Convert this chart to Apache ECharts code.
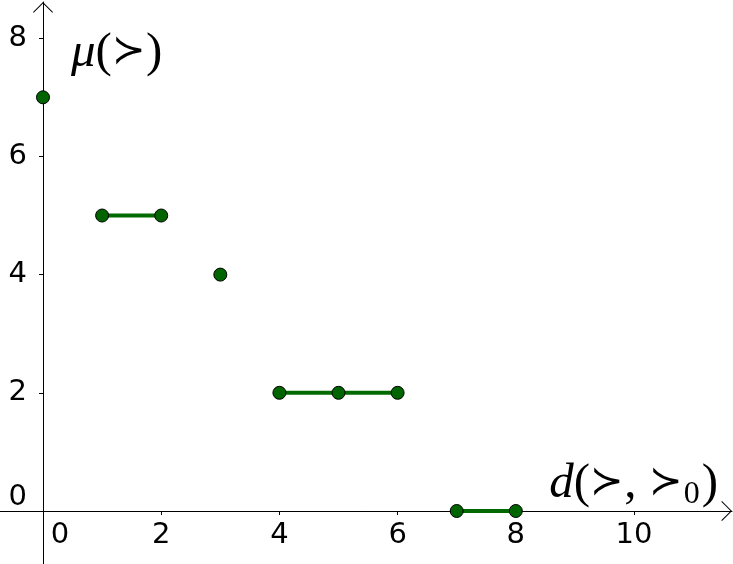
<!DOCTYPE html>
<html>
<head>
<meta charset="utf-8">
<script src="https://cdn.jsdelivr.net/npm/echarts@6/dist/echarts.min.js"></script>
<style>
html,body{margin:0;padding:0;background:#fff;}
#chart{width:733px;height:564px;}
</style>
</head>
<body>
<div id="chart"></div>
<script>
// Data
const pointsX = [0, 1, 2, 3, 4, 5, 6, 7, 8];
const pointsY = [7, 5, 5, 4, 2, 2, 2, 0, 0];
const segment1 = [[1, 5], [2, 5]];
const segment2 = [[4, 2], [6, 2]];
const segment3 = [[7, 0], [8, 0]];
const xTickLabels = [0, 2, 4, 6, 8, 10];
const yTickLabels = [0, 2, 4, 6, 8];
const xTicks = [2, 4, 6, 8, 10];
const yTicks = [2, 4, 6, 8];
const xRange = [-0.7276, 11.658];
const yRange = [-0.8968, 8.613];

const W = 733, H = 564;
const grid = { left: 0, right: 1, top: 2, bottom: 0 };
const gridW = W - grid.left - grid.right;
const gridH = H - grid.top - grid.bottom;
// place each axis line where the other axis is zero
const yAxisOffset = -((0 - xRange[0]) / (xRange[1] - xRange[0])) * gridW;
const xAxisOffset = -((0 - yRange[0]) / (yRange[1] - yRange[0])) * gridH;

const chart = echarts.init(document.getElementById('chart'));
const arrowPath = 'path://M0 10L10 0L20 10L19.3 10.7L10 1.4L0.7 10.7Z';
const green = '#006400';
const lineGreen = '#006a00';
const segStyle = { color: lineGreen, width: 4 };
const serifIt = { fontFamily: 'Liberation Serif', fontStyle: 'italic', fontSize: 49, color: '#000', lineHeight: 54 };
const serifRm = { fontFamily: 'Liberation Serif', fontSize: 49, color: '#000', lineHeight: 54 };
const symStyle = { fontFamily: 'DejaVu Sans', fontWeight: 200, fontSize: 40, color: '#000', lineHeight: 54 };

const option = {
  animation: false,
  backgroundColor: '#ffffff',
  grid: { left: grid.left, right: grid.right, top: grid.top, bottom: grid.bottom, containLabel: false, outerBoundsMode: 'none' },
  xAxis: {
    type: 'value',
    min: xRange[0],
    max: xRange[1],
    position: 'bottom',
    offset: xAxisOffset,
    splitLine: { show: false },
    axisLine: {
      onZero: false,
      lineStyle: { color: '#000', width: 1 },
      symbol: ['none', arrowPath],
      symbolSize: [20, 10.7],
      symbolOffset: [0, -5.35]
    },
    axisTick: { show: true, customValues: xTicks, length: 4, lineStyle: { color: '#000' } },
    axisLabel: {
      customValues: xTickLabels,
      color: '#000',
      fontFamily: 'DejaVu Sans',
      fontSize: 29,
      margin: 10,
      hideOverlap: false,
      formatter: function (v) { return v === 0 ? '{z|0}' : String(v); },
      rich: { z: { fontFamily: 'DejaVu Sans', fontSize: 29, color: '#000', padding: [0, 0, 0, 34] } }
    },
    name: '{it|d}{rm|(}{sym|≻}{rm|, }{sym|≻}{sub|0}{rm|)}',
    nameLocation: 'end',
    nameGap: -14,
    nameMoveOverlap: false,
    nameTextStyle: {
      align: 'right',
      verticalAlign: 'bottom',
      rich: {
        it: serifIt,
        rm: serifRm,
        sym: symStyle,
        sub: { fontFamily: 'Liberation Serif', fontSize: 32, color: '#000', lineHeight: 30, verticalAlign: 'bottom', padding: [0, 2, 0, 1] }
      }
    }
  },
  yAxis: {
    type: 'value',
    min: yRange[0],
    max: yRange[1],
    position: 'left',
    offset: yAxisOffset,
    splitLine: { show: false },
    axisLine: {
      onZero: false,
      lineStyle: { color: '#000', width: 1 },
      symbol: ['none', arrowPath],
      symbolSize: [20, 10.7],
      symbolOffset: [0, -5.35]
    },
    axisTick: { show: true, customValues: yTicks, length: 4, lineStyle: { color: '#000' } },
    axisLabel: {
      customValues: yTickLabels,
      color: '#000',
      fontFamily: 'DejaVu Sans',
      fontSize: 29,
      margin: 16,
      hideOverlap: false,
      formatter: function (v) { return v === 0 ? '{z|0}' : String(v); },
      rich: { z: { fontFamily: 'DejaVu Sans', fontSize: 29, color: '#000', padding: [0, 0, 28, 0] } }
    },
    name: '{it|μ}{rm|(}{sym|≻}{rm|)}',
    nameLocation: 'end',
    nameGap: -24,
    nameMoveOverlap: false,
    nameTextStyle: {
      align: 'left',
      verticalAlign: 'top',
      padding: [0, 0, 0, 28],
      rich: { it: serifIt, rm: serifRm, sym: symStyle }
    }
  },
  series: [
    { type: 'line', data: segment1, symbol: 'none', lineStyle: segStyle, z: 3 },
    { type: 'line', data: segment2, symbol: 'none', lineStyle: segStyle, z: 3 },
    { type: 'line', data: segment3, symbol: 'none', lineStyle: segStyle, z: 3 },
    {
      type: 'scatter',
      data: pointsX.map(function (x, i) { return [x, pointsY[i]]; }),
      symbol: 'circle',
      symbolSize: 13,
      itemStyle: { color: green, borderColor: '#000', borderWidth: 1, opacity: 1 },
      z: 4
    }
  ]
};
chart.setOption(option);
</script>
</body>
</html>
